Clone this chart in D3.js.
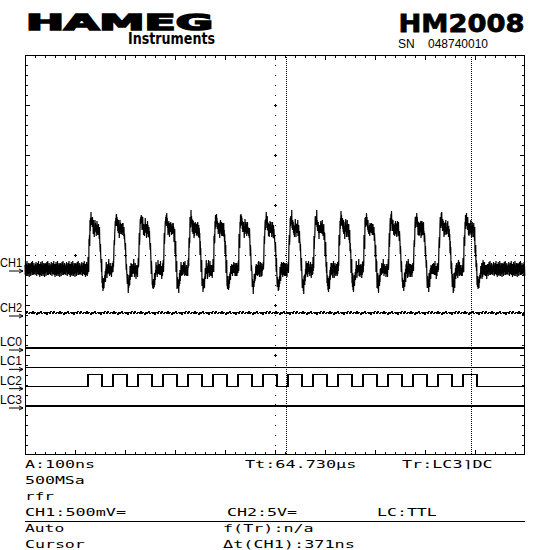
<!DOCTYPE html>
<html><head><meta charset="utf-8">
<script src="https://cdn.jsdelivr.net/npm/d3@7"></script>
<style>html,body{margin:0;padding:0;background:#fff}svg{display:block}</style>
</head><body>
<svg id="c" width="550" height="550"></svg>
<script>
// ---------- data ----------
const brand = "HAMEG";
const brandSub = "Instruments";
const model = "HM2008";
const serialLabel = "SN";
const serial = "048740010";

// CH1 burst: one period template (V) sampled every 2 ns after each LC2 rising edge
const ch1Template = [0.06, 0.30, 0.48, 0.53, 0.47, 0.43, 0.40, 0.45, 0.41, 0.43, 0.41, 0.36, 0.22, 0.05, -0.10, -0.15, -0.10, -0.03, 0.03, 0.00, 0.04, 0.01, 0.02, 0.00, 0.01];
const ch1Idle = 0.02;                 // V
const ch1Noise = [0.04,-0.06,0.07,-0.02,0.05,-0.07,0.01,-0.05,0.08,-0.03,0.04,-0.07,0.02,-0.01,0.06,-0.05,0.03,-0.08,0.05,-0.02,0.06,-0.04,0.00,-0.07,0.05,-0.03,0.07,-0.02,0.02,-0.06,0.08,-0.04,0.01,-0.06,0.04,-0.01,0.06,-0.05,0.03,-0.04,0.02,-0.06,0.05,-0.03,0.07,-0.01,0.03,-0.07,0.04,-0.02,0.06,-0.05,0.01,-0.04,0.08,-0.06,0.02,-0.03,0.05,-0.08,0.03];
const ch2Level = 0.2;                 // V
const ch2Noise = [0.1,-0.1,0.15,0.0,-0.1,0.1,0.05,-0.05,0.2,-0.1,0.1,0.0,-0.15,0.1,-0.05,0.05,0.15,-0.1,0.0,0.1,-0.1,0.1,-0.15,0.05,0.1,-0.05,0.15];

// LC2 rising edges (ns) and high time (ns)
const lc2Rises = [126,176,226,276,326,376,426,476,526,576,626,676,726,776,826,876];
const lc2HighTime = 28;
const lcChannels = ["LC0","LC1","LC2","LC3"];
const chLabels = ["CH1","CH2"];

const cursorTimes = [522, 893];       // ns

const infoTop = [["A:100ns","Tt:64.730\u00B5s","Tr:LC3\u2309DC"],["500MSa"],["rfr"],["CH1:500mV=","CH2:5V=","LC:TTL"]];
const infoBottom = [["Auto","f(Tr):n/a"],["Cursor","\u0394t(CH1):371ns"]];

// ---------- layout ----------
const X0=25, X1=525, Y0=55, Y1=455;
const svg = d3.select("#c");
const x = d3.scaleLinear([0,1000],[X0,X1]);          // ns, 100 ns/div
const yDiv = d3.scaleLinear([-4,4],[Y1,Y0]);         // divisions
const yCh1 = d3.scaleLinear([0,1],[271,171]);        // 500 mV/div
const yCh2 = d3.scaleLinear([0,10],[315,215]);       // 5 V/div
const yLc = d3.scaleLinear([0,3],[348,406]);
const lcHigh = 12;

// header
svg.append("text").attr("x",26).attr("y",29.5).attr("font-family","DejaVu Sans").attr("font-weight","bold")
  .attr("font-size",22).attr("textLength",187).attr("lengthAdjust","spacingAndGlyphs")
  .attr("stroke","#000").attr("stroke-width",1.6).attr("stroke-linejoin","miter").text(brand);
svg.append("text").attr("x",128).attr("y",43.5).attr("font-family","DejaVu Sans").attr("font-weight","bold")
  .attr("font-size",15.5).attr("textLength",87).attr("lengthAdjust","spacingAndGlyphs").text(brandSub);
svg.append("text").attr("x",398.5).attr("y",31.5).attr("font-family","DejaVu Sans").attr("font-weight","bold")
  .attr("font-size",25).attr("textLength",126).attr("lengthAdjust","spacingAndGlyphs")
  .attr("stroke","#000").attr("stroke-width",0.8).text(model);
svg.append("text").attr("x",398).attr("y",47.5).attr("font-family","Liberation Sans")
  .attr("font-size",12).text(serialLabel);
svg.append("text").attr("x",428).attr("y",47.5).attr("font-family","Liberation Sans")
  .attr("font-size",12).attr("textLength",60).attr("lengthAdjust","spacingAndGlyphs").text(serial);

// frame
const g = svg.append("g").attr("shape-rendering","crispEdges");
g.append("rect").attr("x",X0+0.5).attr("y",Y0+0.5).attr("width",X1-X0-1).attr("height",Y1-Y0-1)
  .attr("fill","none").attr("stroke","#000");

const tMinor = d3.range(20,1000,20).filter(v=>v%100!==0);
const tMajor = d3.range(100,1000,100);
const dMinor = d3.range(-3.8,4,0.2).map(v=>+v.toFixed(1)).filter(v=>Math.abs(v-Math.round(v))>1e-6);
const dMajor = d3.range(-3,4,1);

function axisG(axis, tx, ty){
  const a = g.append("g").attr("transform",`translate(${tx},${ty})`).call(axis);
  a.select(".domain").remove();
  a.selectAll("line").attr("stroke","#000");
  return a;
}
axisG(d3.axisBottom(x).tickValues(tMinor).tickSize(2).tickFormat(""),0,Y0+1);
axisG(d3.axisBottom(x).tickValues(tMajor).tickSize(4).tickFormat(""),0,Y0+1);
axisG(d3.axisTop(x).tickValues(tMinor).tickSize(2).tickFormat(""),0,Y1-1);
axisG(d3.axisTop(x).tickValues(tMajor).tickSize(4).tickFormat(""),0,Y1-1);
axisG(d3.axisRight(yDiv).tickValues(dMinor).tickSize(2).tickFormat(""),X0+1,0);
axisG(d3.axisRight(yDiv).tickValues(dMajor).tickSize(4).tickFormat(""),X0+1,0);
axisG(d3.axisLeft(yDiv).tickValues(dMinor).tickSize(2).tickFormat(""),X1-1,0);
axisG(d3.axisLeft(yDiv).tickValues(dMajor).tickSize(4).tickFormat(""),X1-1,0);

// centre crosshair (dots + crosses)
const cx = Math.round(x(500)), cy = Math.round(yDiv(0));
const dotsH = tMinor.map(t=>[Math.round(x(t)),cy]);
const dotsV = dMinor.map(d=>[cx,Math.round(yDiv(d))]);
g.selectAll(".dot").data(dotsH.concat(dotsV)).join("rect").attr("x",d=>d[0]).attr("y",d=>d[1])
  .attr("width",1).attr("height",1).attr("fill","#000");
const crosses = tMajor.map(t=>[Math.round(x(t)),cy]).concat(dMajor.map(d=>[cx,Math.round(yDiv(d))]));
g.selectAll(".cross").data(crosses).join("path")
  .attr("d",d=>`M${d[0]-1},${d[1]+0.5}h3M${d[0]+0.5},${d[1]-1}v3`).attr("stroke","#000").attr("fill","none");

// cursors
g.selectAll(".cur").data(cursorTimes).join("line")
  .attr("x1",d=>Math.floor(x(d))+0.5).attr("x2",d=>Math.floor(x(d))+0.5).attr("y1",Y0).attr("y2",Y1)
  .attr("stroke","#000").attr("stroke-dasharray","1,1");

// CH1 trace
const burstStart = lc2Rises[0], burstEnd = lc2Rises[lc2Rises.length-1]+50;
const ch1 = d3.range(0,1000,0.5).map((t,i)=>{
  let v = ch1Idle;
  if (t>=burstStart && t<burstEnd){ const off=(t-burstStart)%50; v = ch1Template[Math.floor(off/2)]; }
  return {t, v: v + ch1Noise[i % ch1Noise.length]};
});
svg.append("path").datum(ch1).attr("fill","none").attr("stroke","#000").attr("stroke-width",1.2)
  .attr("d",d3.line().x(d=>x(d.t)).y(d=>yCh1(d.v)));

// CH2 trace
const ch2 = d3.range(0,1000,2).map((t,i)=>({t, v: ch2Level + ch2Noise[i % ch2Noise.length]}));
svg.append("path").datum(ch2).attr("fill","none").attr("stroke","#000").attr("stroke-width",1)
  .attr("shape-rendering","crispEdges")
  .attr("d",d3.line().x(d=>x(d.t)).y(d=>yCh2(d.v)));

// logic channels
function stepPoints(rises){
  const pts=[[0,0]];
  rises.forEach(r=>{pts.push([r,0],[r,1],[r+lc2HighTime,1],[r+lc2HighTime,0]);});
  pts.push([1000,0]);
  return pts;
}
lcChannels.forEach((name,k)=>{
  const pts = name==="LC2" ? stepPoints(lc2Rises) : [[0,0],[1000,0]];
  svg.append("path").datum(pts).attr("fill","none").attr("stroke","#000").attr("stroke-width",1.5)
    .attr("shape-rendering","crispEdges")
    .attr("d",d3.line().x(d=>x(d[0])).y(d=>yLc(k)-d[1]*lcHigh));
});

// channel labels with arrows
const labelRows = [
  {name:chLabels[0], y:yCh1(0)},
  {name:chLabels[1], y:yCh2(0)+1},
].concat(lcChannels.map((n,k)=>({name:n, y:yLc(k)+2})));
labelRows.forEach(r=>{
  svg.append("text").attr("x",0).attr("y",r.y-4).attr("font-family","Liberation Sans").attr("font-size",12)
    .attr("textLength",22).attr("lengthAdjust","spacingAndGlyphs").text(r.name);
  svg.append("path").attr("d",`M9,${r.y}H23M19,${r.y-2}L23,${r.y}L19,${r.y+2}`)
    .attr("stroke","#000").attr("fill","none").attr("stroke-width",1);
});

// info area
const cellW = 10.3;
function info(txt, col, base){
  svg.append("text").attr("x",col).attr("y",base).attr("font-family","DejaVu Sans Mono").attr("font-size",10)
    .attr("textLength",txt.length*cellW-2).attr("lengthAdjust","spacingAndGlyphs").text(txt);
}
const topBases = [468,484,500,516];
const topCols = [[25,245,402],[25],[25],[25,227,377]];
infoTop.forEach((row,r)=>row.forEach((t,c)=>info(t, topCols[r][c], topBases[r])));
svg.append("line").attr("x1",X0).attr("x2",X1).attr("y1",521.5).attr("y2",521.5).attr("stroke","#000")
  .attr("shape-rendering","crispEdges");
const botBases = [532,548];
infoBottom.forEach((row,r)=>row.forEach((t,c)=>info(t, [25,223][c], botBases[r])));
</script>
</body></html>
